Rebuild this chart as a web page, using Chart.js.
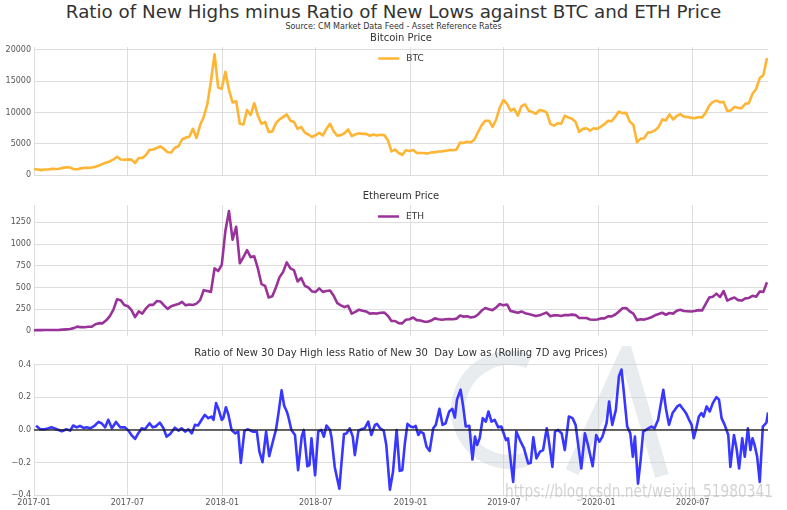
<!DOCTYPE html>
<html>
<head>
<meta charset="utf-8">
<script src="https://cdn.jsdelivr.net/npm/chart.js@4.4.1/dist/chart.umd.min.js"></script>
<style>
  body { margin: 0; background: #fff; width: 787px; height: 510px; overflow: hidden; position: relative; font-family: "DejaVu Sans", sans-serif; }
  #title { position: absolute; left: 0; width: 787px; top: 1px; text-align: center; font-size: 18.3px; color: #333; }
  #sub { position: absolute; left: 0; width: 787px; top: 22px; text-align: center; font-size: 8px; color: #333; }
  canvas { position: absolute; left: 0; }
</style>
</head>
<body>
<div id="title">Ratio of New Highs minus Ratio of New Lows against BTC and ETH Price</div>
<div id="sub">Source: CM Market Data Feed - Asset Reference Rates</div>
<canvas id="chartBtc" width="787" height="153" style="top:31px"></canvas>
<canvas id="chartEth" width="787" height="155" style="top:189px"></canvas>
<canvas id="chartRatio" width="787" height="165" style="top:346px"></canvas>
<script>
// ---------------------------------------------------------------------------
// Data (x = days since 2017-01-01, prices sampled weekly)
// ---------------------------------------------------------------------------
const tickDays = [0, 181, 365, 546, 730, 911, 1095, 1277];
const tickLabels = ["2017-01", "2017-07", "2018-01", "2018-07", "2019-01", "2019-07", "2020-01", "2020-07"];
const lastDay = 1423;

const btcPrice = [
  1000, 910, 820, 925, 920, 1020, 1000, 1050, 1180, 1270, 1230, 970, 970,
  1100, 1190, 1180, 1250, 1350, 1570, 1800, 2050, 2200, 2520, 2950, 2520, 2480,
  2530, 2500, 1950, 2750, 2750, 3230, 4050, 4100, 4350, 4600, 4200, 3680, 3630,
  4400, 4620, 5700, 6000, 6150, 7400, 5950, 8000, 9300, 11300, 15000, 19300, 14000, 13800,
  16500, 13600, 11600, 11800, 8200, 8100, 10400, 9600, 11500, 9500, 8200, 8500,
  6900, 7000, 8300, 8900, 9300, 9700, 8700, 8500, 7400, 7700, 6800, 6500, 6100,
  6400, 6750, 6350, 7400, 8200, 7000, 6300, 6400, 6700, 7300, 6250, 6500, 6700, 6600,
  6600, 6300, 6500, 6350, 6450, 6400, 5600, 3800, 4100, 3550, 3250, 4000, 3850,
  4050, 3550, 3550, 3550, 3450, 3650, 3650, 3800, 3800, 3900, 4000, 4000, 4100,
  5200, 5150, 5350, 5250, 5700, 6900, 8000, 8700, 8700, 7700, 8900, 10800, 12000,
  11400, 10300, 10600, 9500, 11000, 11300, 10300, 10100, 9800, 10400, 10300, 10000, 8200,
  7900, 8300, 8200, 9500, 9200, 9000, 8500, 6900, 7400, 7500, 7100, 7500, 7400,
  7750, 8150, 8700, 8600, 9350, 10150, 9900, 9950, 8550, 8050, 5250, 5850, 5900,
  6800, 6900, 7150, 7700, 8900, 8750, 9700, 8900, 9450, 9750, 9350, 9300, 9150,
  9100, 9300, 9200, 9950, 11100, 11700, 11900, 11650, 11700, 10250, 10350, 10900, 10750,
  10700, 11400, 11500, 13000, 13750, 15500, 15950, 18700
];

const ethPrice = [
  8, 10, 10, 10.5, 10.6, 11.3, 11.4, 12.8, 15.6, 19, 23, 33, 50,
  44, 43, 48, 49, 78, 90, 88, 123, 172, 245, 365, 355, 300,
  285, 240, 160, 225, 200, 260, 300, 300, 345, 340, 295, 255, 285,
  300, 310, 335, 295, 305, 300, 315, 355, 470, 460, 450, 720, 690, 760,
  1150, 1380, 1050, 1200, 780, 850, 930, 850, 860, 720, 540, 520,
  385, 400, 500, 620, 680, 790, 720, 700, 570, 610, 520, 500, 455,
  450, 490, 450, 460, 465, 405, 320, 295, 275, 290, 200, 220, 245, 232,
  225, 200, 205, 200, 210, 212, 175, 115, 115, 90, 88, 130, 135,
  155, 125, 120, 108, 107, 120, 145, 135, 130, 135, 138, 135, 142,
  178, 165, 170, 155, 163, 190, 235, 265, 250, 240, 270, 310, 295,
  305, 230, 220, 210, 225, 205, 195, 185, 172, 180, 197, 212, 170,
  180, 180, 172, 183, 183, 188, 183, 150, 150, 150, 133, 130, 132,
  145, 145, 168, 168, 190, 225, 262, 265, 225, 200, 125, 135, 131,
  143, 158, 180, 195, 210, 187, 207, 200, 232, 245, 230, 228, 225,
  230, 240, 235, 310, 385, 395, 430, 390, 460, 350, 370, 385, 355,
  350, 375, 380, 405, 395, 455, 450, 560
];

const ratioDays = [
  4, 12, 21, 28, 34, 44, 54, 63, 70, 76, 83, 89, 96, 102, 109, 118, 125, 131, 138, 144,
  151, 159, 167, 176, 183, 189, 196, 202, 209, 215, 224, 230, 236, 244, 251, 257, 264, 273, 280, 286,
  293, 299, 306, 312, 318, 325, 331, 338, 344, 348, 353, 357, 364, 367, 372, 377, 383, 390, 396, 401,
  408, 415, 424, 432, 437, 443, 450, 456, 463, 469, 474, 480, 485, 490, 493, 499, 506, 512, 519, 523,
  530, 534, 538, 545, 551, 557, 562, 567, 574, 577, 583, 592, 596, 601, 606, 612, 618, 622, 629, 635,
  641, 648, 654, 661, 665, 671, 678, 683, 690, 696, 703, 709, 714, 719, 724, 730, 735, 740, 745, 749,
  755, 761, 767, 774, 779, 786, 792, 798, 805, 811, 816, 820, 827, 832, 837, 844, 850, 855, 859, 864,
  870, 876, 881, 887, 893, 900, 906, 915, 919, 929, 935, 942, 950, 958, 963, 968, 974, 981, 987, 994,
  997, 1005, 1010, 1016, 1023, 1029, 1037, 1044, 1050, 1061, 1068, 1074, 1083, 1090, 1096, 1102, 1110, 1115, 1121, 1128,
  1134, 1139, 1143, 1150, 1156, 1161, 1165, 1171, 1176, 1181, 1191, 1197, 1203, 1210, 1220, 1225, 1231, 1238, 1247, 1252,
  1257, 1264, 1270, 1275, 1279, 1284, 1289, 1294, 1298, 1304, 1310, 1316, 1323, 1328, 1333, 1339, 1346, 1350, 1357, 1362,
  1367, 1373, 1378, 1384, 1389, 1393, 1397, 1402, 1407, 1413, 1420, 1423
];
const ratioValues = [
  0.025, 0.004, 0.004, 0.010, 0.016, 0.004, -0.008, 0.004, -0.004, 0.027, 0.016, 0.025, 0.012, 0.016, 0.010, 0.027, 0.049, 0.041, 0.016, 0.062,
  0.010, 0.049, 0.016, 0.016, -0.004, -0.031, -0.055, -0.021, 0.010, 0.004, 0.041, 0.016, 0.021, 0.045, 0.010, -0.041, -0.025, 0.014, -0.004, 0.010,
  -0.010, 0.004, -0.021, 0.031, 0.027, 0.062, 0.092, 0.072, 0.082, 0.062, 0.164, 0.133, 0.062, 0.072, 0.139, 0.092, 0.000, -0.021, -0.010, -0.201,
  -0.004, 0.004, -0.010, -0.010, -0.133, -0.197, -0.010, -0.160, -0.072, 0.000, 0.103, 0.242, 0.148, 0.113, 0.082, 0.000, -0.031, -0.246, -0.041, 0.000,
  -0.222, -0.215, -0.051, -0.277, -0.010, 0.000, -0.041, 0.027, 0.000, -0.051, -0.226, -0.359, -0.205, -0.025, -0.021, 0.010, -0.041, -0.154, -0.004, 0.004,
  0.010, 0.051, -0.031, 0.031, 0.037, 0.010, -0.004, -0.092, -0.365, -0.256, 0.000, -0.250, -0.246, -0.082, 0.037, 0.021, 0.016, 0.025, -0.031, -0.010,
  -0.021, -0.103, -0.129, 0.010, 0.031, 0.129, 0.031, 0.041, 0.113, 0.129, 0.076, 0.185, 0.246, 0.144, 0.021, 0.025, -0.181, -0.041, -0.092, -0.051,
  0.072, 0.051, 0.113, 0.051, 0.062, 0.016, 0.021, -0.062, -0.051, -0.318, -0.010, -0.062, -0.113, -0.205, -0.201, -0.045, -0.174, -0.133, -0.123, 0.010,
  -0.041, -0.226, -0.010, 0.000, -0.021, -0.123, 0.082, 0.072, 0.031, -0.236, -0.021, -0.092, -0.222, -0.031, -0.072, -0.041, 0.041, 0.174, 0.031, 0.123,
  0.328, 0.369, 0.246, 0.021, -0.021, -0.164, -0.041, -0.328, -0.185, -0.010, 0.010, 0.021, 0.010, 0.062, 0.246, 0.133, 0.031, 0.103, 0.144, 0.154,
  0.133, 0.103, 0.062, 0.031, -0.051, 0.010, 0.082, 0.103, 0.082, 0.144, 0.113, 0.164, 0.201, 0.185, 0.072, 0.031, -0.031, -0.226, -0.031, -0.113,
  -0.236, -0.051, -0.164, 0.010, -0.123, -0.051, -0.092, -0.164, -0.318, 0.021, 0.045, 0.107
];

const btcTicks = [0, 5000, 10000, 15000, 20000];
const ethTicks = [0, 250, 500, 750, 1000, 1250];
const ratioTicks = [-0.4, -0.2, 0, 0.2, 0.4];

// ---------------------------------------------------------------------------
// Styling
// ---------------------------------------------------------------------------
const FONT = "'DejaVu Sans', sans-serif";
const GRID = "#dedede";
Chart.defaults.font.family = FONT;
Chart.defaults.color = "#555";
Chart.defaults.animation = false;

const weekly = (values) => values.map((v, i) => ({ x: i * 7, y: v }));

// subplot title, centred over the plot area (not the whole canvas)
const panelTitle = {
  id: "panelTitle",
  afterDraw(chart, args, opts) {
    const { ctx, chartArea } = chart;
    ctx.save();
    ctx.font = `10px ${FONT}`;
    ctx.fillStyle = "#333";
    ctx.textAlign = "center";
    ctx.textBaseline = "middle";
    ctx.fillText(opts.text, (chartArea.left + chartArea.right) / 2, chartArea.top - opts.offset);
    ctx.restore();
  },
};

// legend drawn inside the plot, centred at the top
const innerLegend = {
  id: "innerLegend",
  afterDatasetsDraw(chart, args, opts) {
    if (!opts.show) return;
    const ds = chart.data.datasets[0];
    const { ctx, chartArea } = chart;
    const cx = (chartArea.left + chartArea.right) / 2;
    const y = chartArea.top + 11.5;
    ctx.save();
    ctx.font = `9px ${FONT}`;
    const w = ctx.measureText(ds.label).width;
    const x0 = cx - (21 + 7 + w) / 2;
    ctx.strokeStyle = ds.borderColor;
    ctx.lineWidth = 2.5;
    ctx.beginPath();
    ctx.moveTo(x0, y);
    ctx.lineTo(x0 + 21, y);
    ctx.stroke();
    ctx.fillStyle = "#333";
    ctx.textBaseline = "middle";
    ctx.fillText(ds.label, x0 + 28, y + 0.5);
    ctx.restore();
  },
};

// faint logo + blog watermark on the lower panel
const watermark = {
  id: "watermark",
  beforeDatasetsDraw(chart, args, opts) {
    if (!opts.show) return;
    const { ctx } = chart;
    ctx.save();
    ctx.strokeStyle = "rgba(200, 208, 216, 0.4)";
    ctx.lineWidth = 14;
    ctx.beginPath();
    ctx.arc(510, 64, 52, -1.2, 1.2, true);
    ctx.stroke();
    ctx.beginPath();
    ctx.moveTo(572, 126);
    ctx.lineTo(626, 8);
    ctx.lineTo(662, 130);
    ctx.stroke();
    ctx.restore();
  },
  afterDraw(chart, args, opts) {
    if (!opts.show) return;
    const { ctx } = chart;
    ctx.save();
    ctx.font = "16px 'DejaVu Sans', sans-serif";
    const txt = "https://blog.csdn.net/weixin_51980341";
    const w = ctx.measureText(txt).width;
    ctx.translate(505, 151);
    ctx.scale(268 / w, 1.05);
    ctx.fillStyle = "rgba(175, 175, 175, 0.55)";
    ctx.textBaseline = "alphabetic";
    ctx.fillText(txt, 0, 0);
    ctx.restore();
  },
};

function xAxis(showLabels) {
  return {
    type: "linear",
    min: 0,
    max: lastDay,
    afterBuildTicks: (s) => { s.ticks = tickDays.map((v) => ({ value: v })); },
    grid: { color: GRID, drawTicks: false },
    border: { display: false },
    ticks: {
      display: showLabels,
      autoSkip: false,
      maxRotation: 0,
      padding: 3,
      font: { size: 8 },
      callback: (v) => tickLabels[tickDays.indexOf(v)] || "",
    },
  };
}

function yAxis(min, max, ticks, fmt) {
  return {
    min,
    max,
    afterBuildTicks: (s) => { s.ticks = ticks.map((v) => ({ value: v })); },
    afterFit: (s) => { s.width = 34; },
    grid: { color: GRID, drawTicks: false },
    border: { display: false },
    ticks: { padding: 3, font: { size: 8 }, callback: fmt },
  };
}

function panelOptions(title, top, titleOffset, bottom, x, y, legend, mark) {
  return {
    responsive: false,
    layout: { padding: { left: 0, right: 19, top, bottom } },
    elements: { point: { radius: 0 }, line: { tension: 0, borderJoinStyle: "round" } },
    plugins: {
      legend: { display: false },
      tooltip: { enabled: false },
      title: { display: false },
      panelTitle: { text: title, offset: titleOffset },
      innerLegend: { show: legend },
      watermark: { show: mark },
    },
    scales: { x, y },
  };
}

Chart.register(panelTitle, innerLegend, watermark);

// ---------------------------------------------------------------------------
// Panel 1 — Bitcoin price
// ---------------------------------------------------------------------------
new Chart(document.getElementById("chartBtc"), {
  type: "line",
  data: {
    datasets: [{ label: "BTC", data: weekly(btcPrice), borderColor: "#ffb534", borderWidth: 2.6 }],
  },
  options: panelOptions("Bitcoin Price", 16, 9, 0,
    xAxis(false), yAxis(-150, 20450, btcTicks, (v) => String(v)), true, false),
});

// ---------------------------------------------------------------------------
// Panel 2 — Ethereum price
// ---------------------------------------------------------------------------
new Chart(document.getElementById("chartEth"), {
  type: "line",
  data: {
    datasets: [{ label: "ETH", data: weekly(ethPrice), borderColor: "#993399", borderWidth: 2.6 }],
  },
  options: panelOptions("Ethereum Price", 16, 9, 0,
    xAxis(false), yAxis(-60, 1450, ethTicks, (v) => String(v)), true, false),
});

// ---------------------------------------------------------------------------
// Panel 3 — ratio of new highs minus new lows
// ---------------------------------------------------------------------------
const fmtRatio = (v) => (v < -1e-9 ? "\u2212" : "") + Math.abs(v).toFixed(1);

new Chart(document.getElementById("chartRatio"), {
  type: "line",
  data: {
    datasets: [
      {
        label: "zero",
        data: [{ x: 0, y: 0 }, { x: lastDay, y: 0 }],
        borderColor: "rgba(20, 20, 20, 0.85)",
        borderWidth: 1.5,
        order: 0,
      },
      {
        label: "ratio",
        data: ratioDays.map((d, i) => ({ x: d, y: ratioValues[i] })),
        borderColor: "#3737ff",
        borderWidth: 2.6,
        order: 1,
      },
    ],
  },
  options: panelOptions(
    "Ratio of New 30 Day High less Ratio of New 30  Day Low as (Rolling 7D avg Prices)",
    18.5, 11.5, 0,
    xAxis(true), yAxis(-0.4, 0.4, ratioTicks, fmtRatio), false, true),
});
</script>
</body>
</html>
